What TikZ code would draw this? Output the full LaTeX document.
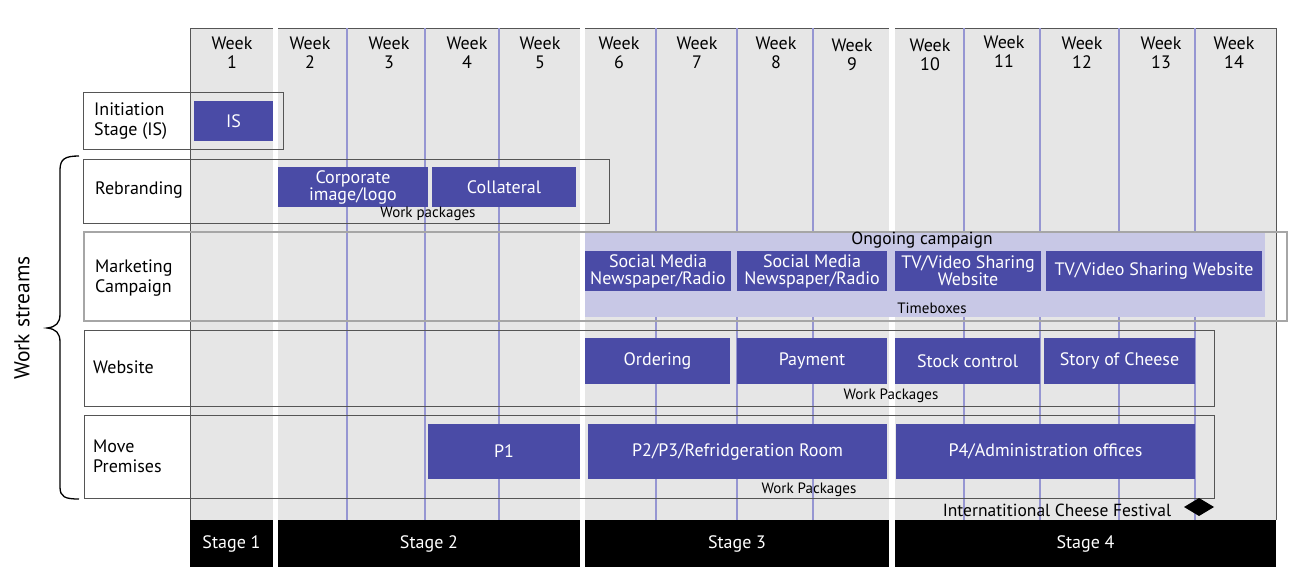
\documentclass[tikz,border=0pt]{standalone}
\usepackage{fontspec}
\setmainfont{PT Sans}
\definecolor{bg}{RGB}{230,230,230}
\definecolor{barblue}{RGB}{74,75,166}
\definecolor{lav}{RGB}{200,200,230}
\definecolor{vline}{RGB}{150,150,210}
\definecolor{boxline}{RGB}{85,85,85}
\tikzset{
 wbar/.style={fill=barblue, text=white, inner sep=0pt, align=center, font=\fontsize{18}{17}\selectfont},
 stagebar/.style={fill=black, text=white, inner sep=0pt, font=\fontsize{18}{18}\selectfont},
 weeklbl/.style={align=center, inner sep=0pt, font=\fontsize{18}{19}\selectfont},
 rowlbl/.style={anchor=west, align=left, inner sep=0pt, font=\fontsize{18}{20}\selectfont},
 smalllbl/.style={inner sep=0pt, font=\fontsize{15}{15}\selectfont},
 biglbl/.style={inner sep=0pt, font=\fontsize{17.5}{17.5}\selectfont},
 rowbox/.style={draw=boxline, line width=0.9pt},
 gridline/.style={draw=vline, line width=1.2pt},
}
\begin{document}
\begin{tikzpicture}[x=1pt,y=-1pt]
\useasboundingbox (0,0) rectangle (1297,581);
% background chart area
\fill[bg] (190,28) rectangle (1276,520);
\draw[boxline, line width=0.9pt] (190,520) -- (190,28) -- (1276,28) -- (1276,520);
% white gaps between stages
\fill[white] (273,20) rectangle (278,570);
\fill[white] (580,20) rectangle (585,570);
\fill[white] (889,20) rectangle (895,570);
% week grid lines
\foreach \gx in {347,425,499,656,737,813,964,1040,1119,1195}
  \draw[gridline] (\gx,28) -- (\gx,520);
% ongoing campaign area
\fill[lav] (585,233) rectangle (1265,317);
% row boxes
\draw[rowbox] (83,92) rectangle (283,149);
\draw[rowbox] (83,159) rectangle (609,223);
\draw[draw=gray!70, line width=1.5pt] (84,232) rectangle (1287,321);
\draw[rowbox] (84,330) rectangle (1214,406);
\draw[rowbox] (84,415) rectangle (1214,498);
% week labels
\node[weeklbl] (w1) at (232,53) {Week\\1};
\node[weeklbl] (w2) at (310,53) {Week\\2};
\node[weeklbl] (w3) at (389,53) {Week\\3};
\node[weeklbl] (w4) at (467,53) {Week\\4};
\node[weeklbl] (w5) at (540,53) {Week\\5};
\node[weeklbl] (w6) at (619,53) {Week\\6};
\node[weeklbl] (w7) at (697,53) {Week\\7};
\node[weeklbl] (w8) at (776,53) {Week\\8};
\node[weeklbl] (w9) at (852,55) {Week\\9};
\node[weeklbl] (w10) at (930,55) {Week\\10};
\node[weeklbl] (w11) at (1004,52) {Week\\11};
\node[weeklbl] (w12) at (1082,53) {Week\\12};
\node[weeklbl] (w13) at (1161,53) {Week\\13};
\node[weeklbl] (w14) at (1234,53) {Week\\14};
% row labels
\node[rowlbl] (lis) at (94,121) {Initiation\\Stage (IS)};
\node[rowlbl] (lreb) at (95,190) {Rebranding};
\node[rowlbl] (lmc) at (95,278) {Marketing\\Campaign};
\node[rowlbl] (lweb) at (93,367) {Website};
\node[rowlbl] (lmp) at (93,456) {Move\\Premises};
% bars
\node[wbar, minimum width=79, minimum height=40] (is) at (233.5,121) {IS};
\node[wbar, minimum width=150, minimum height=40] (corp) at (353,187) {Corporate\\image/logo};
\node[wbar, minimum width=144, minimum height=40] (coll) at (504,187) {Collateral};
\node[wbar, minimum width=146, minimum height=40] (sm1) at (658,271) {Social Media\\Newspaper/Radio};
\node[wbar, minimum width=150, minimum height=40] (sm2) at (812,271) {Social Media\\Newspaper/Radio};
\node[wbar, minimum width=146, minimum height=40] (tv1) at (968,271) {TV/Video Sharing\\Website};
\node[wbar, minimum width=216, minimum height=40] (tv2) at (1154,271) {TV/Video Sharing Website};
\node[wbar, minimum width=145, minimum height=46] (ord) at (657.5,361) {Ordering};
\node[wbar, minimum width=150, minimum height=46] (pay) at (812,361) {Payment};
\node[wbar, minimum width=145, minimum height=46] (stock) at (967.5,361) {Stock control};
\node[wbar, minimum width=151, minimum height=46] (story) at (1119.5,361) {Story of Cheese};
\node[wbar, minimum width=152, minimum height=55] (p1) at (504,451.5) {P1};
\node[wbar, minimum width=299, minimum height=55] (p2) at (737.5,451.5) {P2/P3/Refridgeration Room};
\node[wbar, minimum width=299, minimum height=55] (p4) at (1045.5,451.5) {P4/Administration offices};
% small labels
\node[smalllbl] (wpreb) at (428,214) {Work packages};
\node[biglbl] (ongo) at (922,240) {Ongoing campaign};
\node[smalllbl] (tbox) at (932,308) {Timeboxes};
\node[smalllbl] (wpweb) at (891,396) {Work Packages};
\node[smalllbl] (wpmp) at (809,490) {Work Packages};
% festival milestone
\node[biglbl] (fest) at (1057,510) {Internatitional Cheese Festival};
\fill[black] (1184,507) -- (1199,498) -- (1214,507) -- (1199,516) -- cycle;
% stage bars
\node[stagebar, minimum width=83, minimum height=47] (s1) at (231.5,543.5) {Stage 1};
\node[stagebar, minimum width=302, minimum height=47] (s2) at (429,543.5) {Stage 2};
\node[stagebar, minimum width=304, minimum height=47] (s3) at (737,543.5) {Stage 3};
\node[stagebar, minimum width=381, minimum height=47] (s4) at (1085.5,543.5) {Stage 4};
% brace and work streams
\draw[line width=1.3pt] (79,156) .. controls (65,156) and (60,159) .. (60,170) -- (60,314)
  .. controls (60,323) and (56,327) .. (47,328) .. controls (56,329) and (60,333) .. (60,342)
  -- (60,487) .. controls (60,497) and (65,499) .. (79,499);
\node[rotate=90, inner sep=0pt, font=\fontsize{21.5}{21.5}\selectfont] (ws) at (22,318) {Work streams};
\end{tikzpicture}
\end{document}
